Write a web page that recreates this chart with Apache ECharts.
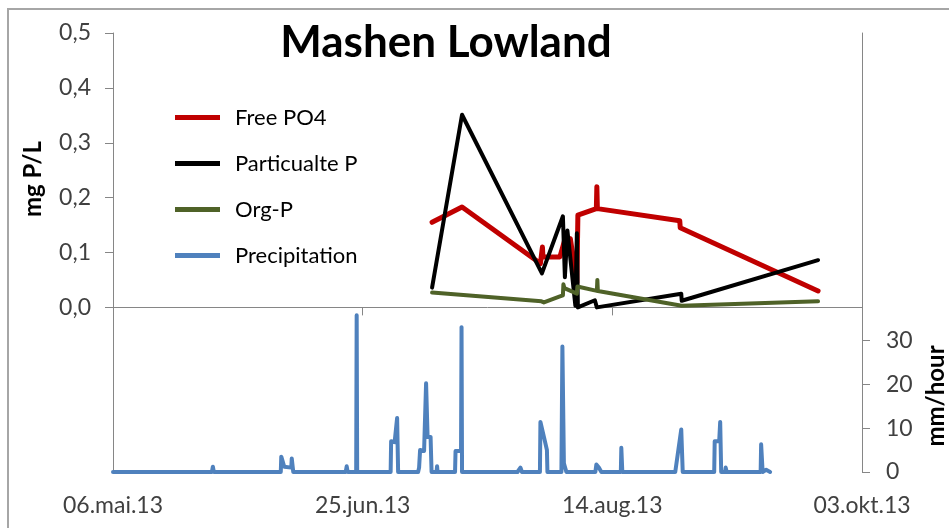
<!DOCTYPE html>
<html>
<head>
<meta charset="utf-8">
<script src="https://cdn.jsdelivr.net/npm/echarts@6/dist/echarts.min.js"></script>
<style>
  html, body { margin: 0; padding: 0; background: #fff; }
  #chart { width: 949px; height: 528px; }
</style>
</head>
<body>
<div id="chart"></div>
<script>
// x values are days after 06.mai.13
const xTickLabels = ["06.mai.13", "25.jun.13", "14.aug.13", "03.okt.13"];
const leftTicks = [0, 0.1, 0.2, 0.3, 0.4, 0.5];
const rightTicks = [0, 10, 20, 30];

const po4Day = [63.9, 69.9, 85.6, 86.0, 86.1, 89.5, 90.6, 91.6, 92.9, 93.1, 96.8, 96.9, 97.0, 113.5, 113.6, 141.2];
const po4Val = [0.155, 0.183, 0.080, 0.110, 0.092, 0.092, 0.127, 0.125, 0.045, 0.168, 0.180, 0.220, 0.180, 0.158, 0.145, 0.030];

const partDay = [63.9, 69.9, 85.9, 90.1, 90.5, 91.0, 92.6, 92.9, 93.1, 96.5, 96.9, 113.8, 113.9, 141.2];
const partVal = [0.036, 0.351, 0.062, 0.166, 0.055, 0.140, 0.003, 0.135, 0.000, 0.013, 0.000, 0.025, 0.012, 0.086];

const orgDay = [63.9, 85.8, 86.3, 89.5, 90.1, 90.2, 90.4, 92.9, 93.0, 96.9, 97.0, 97.1, 113.9, 141.2];
const orgVal = [0.027, 0.011, 0.009, 0.020, 0.022, 0.042, 0.035, 0.025, 0.038, 0.030, 0.050, 0.030, 0.003, 0.011];

const precipDay = [0, 19.8, 20.0, 20.2, 30.0, 30.4, 30.8, 33.6, 33.7, 34.0, 34.3, 35.7, 35.8, 36.1,
  40.8, 40.9, 41.0, 46.6, 46.8, 47.0, 48.7, 48.8, 48.9, 50.7, 50.8, 50.9,
  55.6, 55.7, 56.4, 56.9, 57.1, 61.1, 61.3, 61.5, 62.3, 62.7, 62.8, 63.0, 63.6, 63.8, 64.8, 64.9, 65.0,
  68.5, 68.6, 69.7, 69.8, 69.9, 81.0, 81.3, 81.6, 81.9, 85.5, 85.6, 86.3, 86.9, 87.0,
  89.8, 90.0, 90.3, 90.8, 92.9, 93.0, 93.1, 96.6, 96.8, 97.3, 97.6, 97.8, 101.7, 101.8, 102.0,
  112.6, 113.8, 114.0, 114.1, 120.4, 120.5, 121.4, 121.6, 121.8, 122.6, 122.7, 122.9,
  129.7, 129.8, 130.0, 130.1, 130.8, 131.6];
const precipMm = [0, 0, 1.2, 0, 0, 0.3, 0, 0, 3.5, 3.3, 1.2, 1.0, 3.1, 0,
  0, 0.4, 0, 0, 1.3, 0, 0, 35.7, 0, 0, 0.4, 0,
  0, 7.0, 6.8, 12.3, 0, 0, 1.0, 5.0, 4.8, 20.2, 20.2, 8.0, 8.0, 0, 0, 1.3, 0,
  0, 4.8, 4.8, 33.0, 0, 0, 0.3, 1.0, 0, 0, 11.4, 8.0, 5.0, 0,
  0, 28.6, 2.0, 0, 0, 0.3, 0, 0, 1.7, 1.0, 1.0, 0, 0, 5.5, 0,
  0, 9.7, 9.7, 0, 0, 7.0, 7.0, 11.4, 0, 0, 1.0, 0,
  0, 6.3, 6.3, 0, 0.5, 0];

const pairs = (xs, ys) => xs.map((x, i) => [x, ys[i]]);

const FONT = "Lato";
const TEXT = "#404040";
const AXIS = "#868686";

var chart = echarts.init(document.getElementById("chart"), null, { renderer: "canvas" });

function lineSeries(name, color, data, yIdx, width) {
	return {
		name: name,
		type: "line",
		yAxisIndex: yIdx,
		data: data,
		showSymbol: false,
		symbol: "none",
		clip: false,
		lineStyle: { color: color, width: width, cap: "round", join: "round" },
		itemStyle: { color: color },
	};
}

var option = {
	animation: false,
	title: {
		text: "Mashen Lowland",
		left: 441,
		top: 16,
		textAlign: "center",
		textStyle: { fontFamily: FONT, fontWeight: "bold", fontSize: 44, color: "#000" },
	},
	graphic: [
		{
			type: "rect",
			shape: { x: 8, y: 9, width: 980, height: 560 },
			style: { fill: "none", stroke: "#a6a6a6", lineWidth: 2 },
			silent: true,
		},
		{
			type: "text",
			x: 33,
			y: 179,
			rotation: Math.PI / 2,
			style: {
				text: "mg P/L",
				font: "bold 24px " + FONT,
				fill: "#000",
				textAlign: "center",
				textVerticalAlign: "middle",
			},
		},
		{
			type: "text",
			x: 936,
			y: 396,
			rotation: Math.PI / 2,
			style: {
				text: "mm/hour",
				font: "bold 24px " + FONT,
				fill: "#000",
				textAlign: "center",
				textVerticalAlign: "middle",
			},
		},
	],
	legend: {
		orient: "vertical",
		left: 175,
		top: 105,
		padding: 0,
		itemGap: 21,
		itemWidth: 45,
		itemHeight: 5,
		icon: "rect",
		textStyle: { fontFamily: FONT, fontSize: 22, color: "#000", lineHeight: 25, padding: [0, 0, 0, 10] },
		data: ["Free PO4", "Particualte P", "Org-P", "Precipitation"],
	},
	grid: { left: 113, right: 87, top: 33, bottom: 56 },
	xAxis: {
		type: "value",
		min: 0,
		max: 150,
		interval: 50,
		splitLine: { show: false },
		axisLine: { lineStyle: { color: AXIS, width: 1 } },
		axisTick: { length: 8, lineStyle: { color: AXIS } },
		axisLabel: {
			margin: 22,
			fontFamily: FONT,
			fontSize: 23,
			color: TEXT,
			formatter: (v) => xTickLabels[Math.round(v / 50)],
		},
	},
	yAxis: [
		{
			type: "value",
			position: "left",
			min: -0.3,
			max: 0.5,
			splitLine: { show: false },
			axisLine: { show: true, lineStyle: { color: AXIS, width: 1 } },
			axisTick: { show: true, length: 8, lineStyle: { color: AXIS }, customValues: leftTicks },
			axisLabel: {
				margin: 22,
				fontFamily: FONT,
				fontSize: 23,
				color: TEXT,
				customValues: leftTicks,
				formatter: (v) => v.toFixed(1).replace(".", ","),
			},
		},
		{
			type: "value",
			position: "right",
			min: 0,
			max: 100,
			splitLine: { show: false },
			axisLine: { show: true, lineStyle: { color: AXIS, width: 1 } },
			axisTick: { show: true, length: 8, lineStyle: { color: AXIS }, customValues: rightTicks },
			axisLabel: {
				margin: 24,
				fontFamily: FONT,
				fontSize: 23,
				color: TEXT,
				customValues: rightTicks,
			},
		},
	],
	series: [
		lineSeries("Precipitation", "#4f81bd", pairs(precipDay, precipMm), 1, 4),
		lineSeries("Free PO4", "#c00000", pairs(po4Day, po4Val), 0, 5),
		lineSeries("Particualte P", "#000000", pairs(partDay, partVal), 0, 4),
		lineSeries("Org-P", "#4f6228", pairs(orgDay, orgVal), 0, 4),
	],
};

option && chart.setOption(option);
</script>
</body>
</html>
